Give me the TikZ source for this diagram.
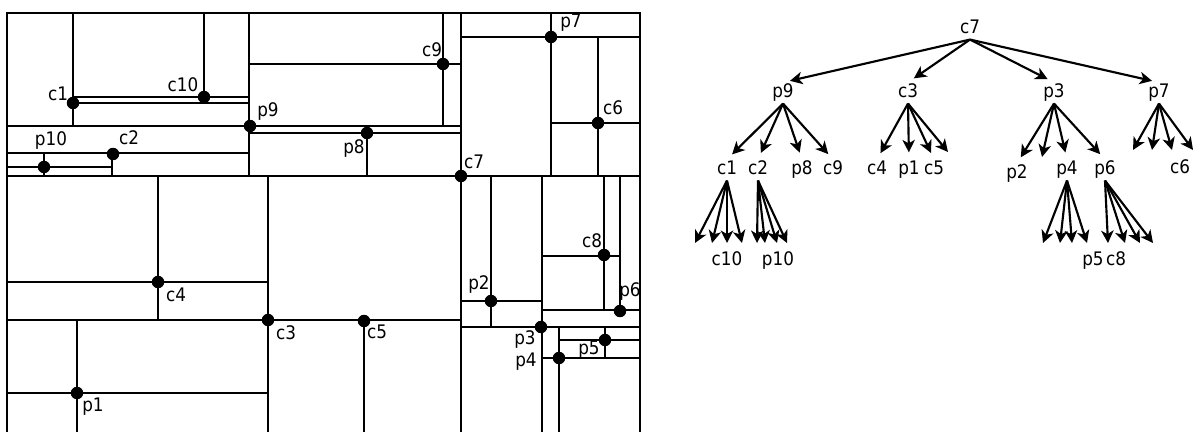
\documentclass[tikz,border=0pt]{standalone}
\usepackage{fontspec}
\setmainfont{DejaVu Sans Condensed}
\usepackage{tikz}
\usetikzlibrary{arrows.meta}

\begin{document}
\begin{tikzpicture}[x=0.5625pt, y=-0.5625pt,
    muro/.style={line width=1.6pt},
    corte/.style={line width=1pt},
    punto/.style={circle, fill=black, inner sep=0pt, minimum size=7pt},
    etiq/.style={inner sep=1pt, text height=7.5pt, text depth=2pt, font=\fontsize{10.5}{12}\selectfont},
    flecha/.style={line width=1.2pt, -{Stealth[length=7pt, width=7pt, inset=2pt]}}]
        \useasboundingbox (0,0) rectangle (1200,432);

        % Marco y divisiones gruesas
        \draw[muro] (7,436) -- (7,13) -- (640,13) -- (640,436);
        \foreach \xa/\ya/\xb/\yb in {7/176/640/176, 461/13/461/436, 249/13/249/176, 73/13/73/126,
                268/176/268/436, 542/176/542/436, 551/13/551/176, 542/310/640/310}
            \draw[muro] (\xa,\ya) -- (\xb,\yb);

        % Divisiones finas
        \foreach \xa/\ya/\xb/\yb in {7/126/461/126, 250/133/461/133, 367/133/367/176, 250/64/461/64,
                443/13/443/126, 73/97/249/97, 73/103/249/103, 204/13/204/97, 7/153/249/153,
                112/153/112/176, 7/167/112/167, 44/153/44/176, 461/37/640/37, 598/37/598/176,
                551/123/640/123, 158/176/158/320, 7/282/268/282, 7/320/461/320, 7/393/268/393,
                77/320/77/436, 364/320/364/436, 491/176/491/327, 461/301/542/301, 461/327/640/327,
                542/256/620/256, 604/176/604/310, 620/176/620/310, 559/327/559/436,
                542/358/640/358, 559/340/640/340, 605/327/605/358}
            \draw[corte] (\xa,\ya) -- (\xb,\yb);

        % Puntos
        \foreach \n/\x/\y in {c1/73/103, c10/204/97, p9/250/126, c2/113/154, p10/44/167, c9/443/64,
                p8/367/133, c7/461/176, p7/551/37, c6/598/123, c4/158/282, c3/268/320, p1/77/393,
                c5/364/321, p2/491/301, c8/604/255, p6/620/311, p3/541/327, p4/559/358, p5/605/340}
            \node[punto] (d\n) at (\x,\y) {};

        % Etiquetas de los puntos
        \foreach \n/\x/\y in {c1/58/96, c10/183/87, p9/268/112, c2/129/140, p10/51/141, c9/432/52,
                p8/354/149, c7/474/164, p7/571/23, c6/613/110, c4/176/297, c3/286/335, p1/93/407,
                c5/377/334, p2/479/285, c8/592/243, p6/630/292, p3/525/340, p4/526/362, p5/589/350}
            \node[etiq] (l\n) at (\x,\y) {\n};

        % Arbol
        \foreach \n/\x/\y in {c7/970/29, p9/783/93, c3/908/93, p3/1054/93, p7/1159/93,
                c1/727/170, c2/758/170, p8/802/170, c9/833/170, c4/877/170, p1/909/170, c5/934/170,
                p2/1017/174, p4/1067/170, p6/1105/170, c6/1180/169,
                c10/727/261, p10/778/261, p5/1093/261, c8/1116/261}
            \node[etiq] (\n) at (\x,\y) {\n};

        % Hojas vacias
        \foreach \n/\x/\y in {c1-1/695/243, c1-2/712/243, c1-3/727/243, c1-4/742/243,
                c2-1/757/243, c2-2/765/243, c2-3/777/243, c2-4/787/243,
                p4-1/1043/243, p4-2/1060/243, p4-3/1072/243, p4-4/1087/243,
                p6-1/1108/243, p6-2/1125/243, p6-3/1140/243, p6-4/1153/243,
                p7-1/1133/150, p7-2/1152/150, p7-3/1172/150, p7-4/1193/150,
                c3-4/948/152, p3-2/1042/157}
            \coordinate (\n) at (\x,\y);

        % Flechas
        \foreach \a/\b in {c7/p9, c7/c3, c7/p3, c7/p7, p9/c1, p9/c2, p9/p8, p9/c9,
                c3/c4, c3/p1, c3/c5, p3/p2, p3/p4, p3/p6}
            \draw[flecha, shorten >=4pt] (\a.south) -- (\b.north);
        \foreach \p in {c1,c2,p4,p6,p7}
            \foreach \k in {1,2,3,4}
                \draw[flecha] (\p.south) -- (\p-\k);
        \draw[flecha] (c3.south) -- (c3-4);
        \draw[flecha] (p3.south) -- (p3-2);
    \end{tikzpicture}
\end{document}
